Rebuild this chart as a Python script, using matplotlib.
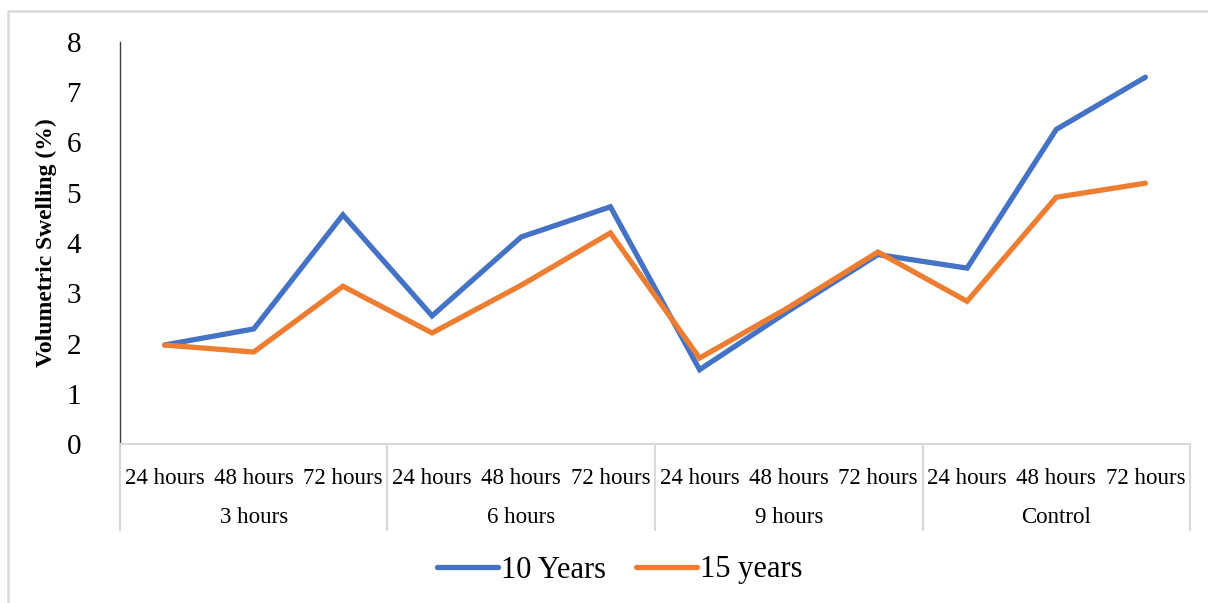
import matplotlib
matplotlib.use("Agg")
import matplotlib.pyplot as plt
from matplotlib.patches import Rectangle
from matplotlib.lines import Line2D

# swelling data, 4 treatment groups x 3 soaking durations
groups = ["3 hours", "6 hours", "9 hours", "Control"]
durations = ["24 hours", "48 hours", "72 hours"]
swell_10y = [1.97, 2.29, 4.56, 2.55, 4.12, 4.72, 1.48, 2.65, 3.77, 3.50, 6.26, 7.30]
swell_15y = [1.97, 1.83, 3.14, 2.21, 3.16, 4.20, 1.71, 2.72, 3.82, 2.84, 4.91, 5.19]

BLUE = "#4472C4"
ORANGE = "#ED7D31"
GRAY = "#D9D9D9"

plt.rcParams['font.family'] = ['Liberation Serif', 'DejaVu Serif']

W, H = 1208, 603
fig = plt.figure(figsize=(W / 100, H / 100), dpi=100)

# light frame round the chart area
fig.patches.append(Rectangle((8 / W, -0.1), 1.2, (H - 11) / H + 0.1,
                             transform=fig.transFigure, fill=False,
                             edgecolor=GRAY, linewidth=1.8))

ax = fig.add_axes([120 / W, (H - 444) / H, 1070 / W, 402 / H])
xs = list(range(len(swell_10y)))
l1, = ax.plot(xs, swell_10y, color=BLUE, linewidth=3.8, solid_capstyle="round",
              solid_joinstyle="miter", label="10 Years")
l2, = ax.plot(xs, swell_15y, color=ORANGE, linewidth=3.8, solid_capstyle="round",
              solid_joinstyle="miter", label="15 years")

ax.set_xlim(-0.5, len(xs) - 0.5)
ax.set_ylim(0, 8)
ax.set_yticks(range(0, 9))
ax.tick_params(axis="y", length=0, labelsize=21, pad=28)
ax.tick_params(axis="x", length=0, labelsize=16.5, pad=17)
ax.set_xticks(xs)
ax.set_xticklabels(durations * len(groups))

for s in ["top", "right"]:
    ax.spines[s].set_visible(False)
ax.spines["left"].set_color("#404040")
ax.spines["left"].set_linewidth(1.0)
ax.spines["bottom"].set_color(GRAY)
ax.spines["bottom"].set_linewidth(1.5)

# group labels and separators below the axis
tr = ax.get_xaxis_transform()
n = len(durations)
for i, g in enumerate(groups):
    ax.text(i * n + (n - 1) / 2, -0.183, g, transform=tr, ha="center",
            va="center", fontsize=16.5)
for i in range(len(groups) + 1):
    x = i * n - 0.5
    ax.add_line(Line2D([x, x], [0, -0.214], transform=tr, color=GRAY,
                       linewidth=1.5, clip_on=False))

ax.set_ylabel("Volumetric Swelling (%)", fontsize=17, fontweight="bold")
ax.yaxis.set_label_coords(-0.059, 0.5)

fig.legend(handles=[l1, l2], loc="center", bbox_to_anchor=(0.513, 1 - 570 / H),
           ncol=2, frameon=False, fontsize=22, handlelength=2.0,
           handletextpad=0.1, columnspacing=1.0)

fig.savefig("out.png", dpi=100)
